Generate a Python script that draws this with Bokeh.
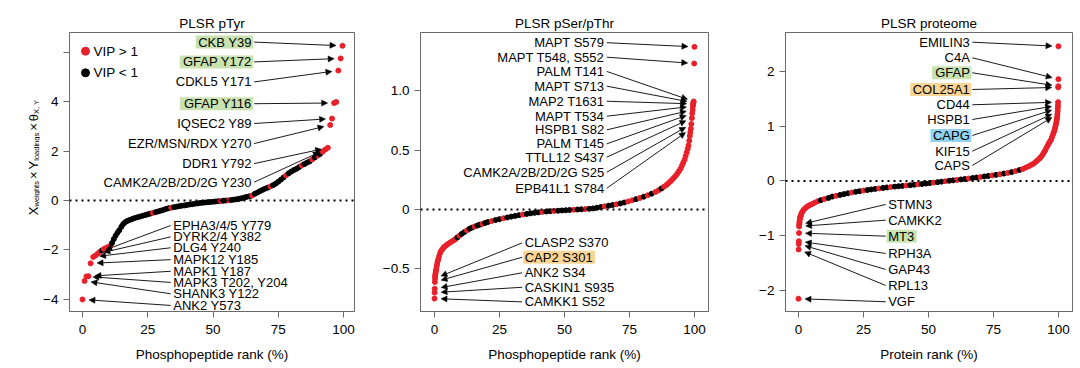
import math
from bokeh.plotting import figure
from bokeh.layouts import row
from bokeh.models import (Range1d, FixedTicker, Span, Arrow, NormalHead, ColumnDataSource,
                          LinearAxis)
from bokeh.embed import file_html
from bokeh.resources import INLINE
from bokeh.core.properties import value

FONT = "Liberation Sans"
RED = "#e8202a"
BLACK = "#000000"
AXC = "#6a6a6a"
GREEN = "#c9e3b0"
ORANGE = "#fbd595"
BLUE = "#92d3f2"

# ---------------- data: PLSR pTyr ----------------
ptyr_rank = [0.0, 0.8, 1.5, 2.3, 3.1, 4.1, 5.0, 5.8, 6.6, 7.4, 8.2, 9.0, 9.8, 10.6,
             11.3, 12.0, 12.7, 13.4, 14.1, 14.9, 15.6, 16.3, 17.1,
             18, 19, 20, 21, 22, 23, 24, 25, 26, 27,
             28, 29, 30, 31, 32, 33, 34, 35, 36, 37,
             38, 39, 40, 41, 42, 43, 44, 45, 46, 47,
             48, 49, 50, 51, 52, 53, 54, 55, 56, 57,
             58, 59, 60, 61, 62, 63, 64, 65, 66, 67,
             68, 69, 70, 71, 72, 73, 74, 75, 76, 77,
             78, 79, 80, 81, 82, 83, 84, 85, 86, 87,
             88, 89, 90, 91, 92, 93, 94,
             94.9, 95.6, 96.4, 97.2, 98.0, 98.9, 99.6]
ptyr_score = [-4.00, -3.25, -3.07, -3.06, -2.54, -2.28, -2.22, -2.15, -2.08, -2.02, -1.96, -1.92, -1.88, -1.84,
              -1.72, -1.56, -1.42, -1.30, -1.20, -1.06, -0.95, -0.88, -0.83,
              -0.79, -0.75, -0.71, -0.68, -0.65, -0.62, -0.59, -0.56, -0.53, -0.50,
              -0.47, -0.44, -0.41, -0.38, -0.34, -0.31, -0.29, -0.27, -0.25, -0.23,
              -0.21, -0.20, -0.18, -0.16, -0.15, -0.13, -0.12, -0.10, -0.09, -0.08,
              -0.07, -0.06, -0.05, -0.04, -0.03, -0.02, -0.01, 0.00, 0.01, 0.02,
              0.035, 0.05, 0.07, 0.09, 0.12, 0.15, 0.17, 0.20, 0.27, 0.32,
              0.38, 0.43, 0.48, 0.52, 0.57, 0.62, 0.68, 0.76, 0.84, 0.93,
              1.02, 1.10, 1.17, 1.23, 1.28, 1.35, 1.42, 1.47, 1.53, 1.58,
              1.66, 1.74, 1.81, 1.88, 1.97, 2.06, 2.13,
              3.05, 3.31, 3.94, 3.98, 5.25, 5.74, 6.25]
ptyr_vip = [1, 1, 1, 1, 1, 1, 1, 1, 1, 0, 1, 1, 1, 1,
            0, 0, 0, 0, 0, 0, 0, 0, 0,
            0, 0, 0, 0, 0, 0, 0, 0, 0, 1,
            0, 0, 0, 0, 0, 0, 1, 0, 0, 0,
            0, 0, 0, 0, 0, 0, 0, 0, 0, 0,
            0, 0, 0, 0, 0, 1, 0, 0, 1, 0,
            0, 0, 0, 0, 0, 0, 0, 1, 0, 0,
            0, 0, 0, 0, 1, 0, 0, 0, 0, 0,
            1, 0, 0, 0, 0, 0, 1, 0, 0, 0,
            1, 0, 1, 0, 1, 1, 1,
            1, 1, 1, 1, 1, 1, 1]

# ---------------- data: PLSR pSer/pThr ----------------
sst_rank = [0.0, 0.05, 0.1, 0.15, 0.2,
            0.25, 0.35, 0.45, 0.55, 0.7, 0.85, 1.0, 1.2, 1.45, 1.75,
            2.1, 2.5, 3.0, 3.5, 4.0, 4.6, 5.2, 5.9, 6.6, 7.3,
            8.0, 8.8, 9.6, 10.5, 11.5, 12.5, 13.5, 14.5, 15.5, 16.5,
            17.5, 18.5, 19.5, 20.5, 22.0, 23.5, 25.0, 26.5, 28.0, 29.5,
            31.0, 32.5, 34.0, 35.5, 37.0, 38.5, 40.0, 41.5, 43.0, 44.5,
            46.0, 47.5, 49.0, 50.5, 52.0, 53.5, 55.0, 56.5, 58.0, 59.5,
            61.0, 62.5, 64.0, 65.5, 67.0, 68.5, 70.0, 71.5, 73.0, 74.5,
            76.0, 77.5, 79.0, 80.5, 82.0, 83.5, 85.0, 86.2, 87.3, 88.3,
            89.2, 90.0, 90.8, 91.5, 92.2, 92.9, 93.5, 94.1, 94.7, 95.2,
            95.7, 96.2, 96.6, 97.0, 97.4, 97.7, 98.0, 98.2, 98.4, 98.6,
            98.8, 99.0, 99.15, 99.3, 99.4, 99.5, 99.6, 99.7, 99.9, 100.0]
sst_score = [-0.75, -0.70, -0.667, -0.61, -0.58,
             -0.56, -0.545, -0.53, -0.515, -0.50, -0.48, -0.46, -0.44, -0.42, -0.395,
             -0.37, -0.35, -0.335, -0.32, -0.31, -0.30, -0.29, -0.28, -0.27, -0.26,
             -0.25, -0.235, -0.22, -0.205, -0.19, -0.175, -0.162, -0.152, -0.143, -0.135,
             -0.127, -0.12, -0.113, -0.106, -0.097, -0.089, -0.081, -0.074, -0.067, -0.06,
             -0.054, -0.048, -0.042, -0.037, -0.032, -0.028, -0.024, -0.02, -0.017, -0.014,
             -0.012, -0.01, -0.008, -0.006, -0.004, -0.002, 0.0, 0.002, 0.004, 0.006,
             0.009, 0.015, 0.021, 0.027, 0.032, 0.038, 0.044, 0.051, 0.059, 0.068,
             0.077, 0.087, 0.097, 0.108, 0.12, 0.133, 0.148, 0.162, 0.177, 0.192,
             0.207, 0.222, 0.238, 0.254, 0.27, 0.288, 0.305, 0.325, 0.345, 0.37,
             0.395, 0.42, 0.45, 0.48, 0.51, 0.54, 0.58, 0.62, 0.65, 0.68,
             0.72, 0.77, 0.81, 0.84, 0.87, 0.89, 0.90, 0.91, 1.23, 1.37]
sst_vip = [1, 1, 1, 1, 1,
           1, 1, 1, 1, 1, 1, 1, 1, 1, 1,
           1, 1, 1, 1, 1, 1, 1, 1, 1, 1,
           1, 0, 1, 0, 0, 1, 0, 0, 1, 0,
           0, 1, 0, 0, 1, 0, 0, 1, 0, 0,
           0, 0, 1, 0, 0, 0, 0, 1, 0, 0,
           1, 0, 0, 0, 0, 1, 0, 0, 1, 0,
           0, 0, 0, 1, 0, 0, 1, 0, 0, 1,
           1, 0, 1, 0, 1, 0, 1, 1, 0, 1,
           1, 1, 1, 1, 1, 1, 1, 1, 1, 1,
           1, 1, 1, 1, 1, 1, 1, 1, 1, 1,
           1, 1, 1, 1, 1, 1, 1, 1, 1, 1]

# ---------------- data: PLSR proteome ----------------
prot_rank = [0.0, 0.05, 0.1, 0.15, 0.2, 0.25, 0.3, 0.35, 0.4,
             0.5, 0.6, 0.75, 0.9, 1.1, 1.4, 1.8, 2.3, 2.9, 3.6,
             4.4, 5.3, 6.3, 7.4, 8.6, 10.0, 11.5, 13.0, 14.5, 16.0,
             17.5, 19.0, 20.5, 22.0, 23.5, 25.0, 26.5, 28.0, 29.5, 31.0,
             32.5, 34.0, 35.5, 37.0, 38.5, 40.0, 41.5, 43.0, 44.5, 46.0,
             47.5, 49.0, 50.5, 52.0, 53.5, 55.0, 56.5, 58.0, 59.5, 61.0,
             62.5, 64.0, 65.5, 67.0, 68.5, 70.0, 71.5, 73.0, 74.5, 76.0,
             77.5, 79.0, 80.5, 82.0, 83.5, 85.0, 86.3, 87.5, 88.6, 89.6,
             90.5, 91.3, 92.0, 92.7, 93.3, 93.9, 94.4, 94.9, 95.4, 95.9,
             96.3, 96.7, 97.1, 97.5, 97.9, 98.2, 98.5, 98.7, 98.9, 99.1,
             99.25, 99.4, 99.5, 99.6, 99.7, 99.75, 99.8, 99.85, 99.9, 99.95,
             99.98, 100.0]
prot_score = [-2.15, -1.25, -1.15, -1.10, -0.95, -0.83, -0.80, -0.77, -0.74,
              -0.70, -0.67, -0.65, -0.63, -0.60, -0.57, -0.54, -0.51, -0.485, -0.46,
              -0.44, -0.42, -0.395, -0.37, -0.35, -0.33, -0.31, -0.285, -0.27, -0.255,
              -0.24, -0.225, -0.21, -0.198, -0.186, -0.175, -0.165, -0.155, -0.145, -0.136,
              -0.127, -0.118, -0.11, -0.103, -0.096, -0.09, -0.083, -0.076, -0.069, -0.062,
              -0.055, -0.047, -0.039, -0.03, -0.021, -0.012, -0.004, 0.004, 0.012, 0.02,
              0.028, 0.036, 0.045, 0.054, 0.063, 0.072, 0.082, 0.092, 0.102, 0.112,
              0.123, 0.135, 0.148, 0.162, 0.18, 0.20, 0.22, 0.245, 0.27, 0.295,
              0.32, 0.35, 0.38, 0.41, 0.44, 0.48, 0.52, 0.56, 0.61, 0.65,
              0.69, 0.72, 0.75, 0.80, 0.85, 0.89, 0.93, 0.97, 1.01, 1.05,
              1.09, 1.13, 1.17, 1.22, 1.27, 1.33, 1.38, 1.44, 1.71, 1.73,
              1.86, 2.46]
prot_vip = [1, 1, 1, 1, 1, 1, 1, 1, 1,
            1, 1, 1, 1, 1, 1, 1, 1, 1, 1,
            1, 1, 1, 1,
            0, 1, 0, 0, 1, 0, 0, 0, 1, 0,
            0, 1, 0, 0, 0, 1, 0, 0, 1, 0,
            0, 0, 1, 0, 0, 1, 0, 0, 0, 1,
            0, 0, 1, 0, 0, 1, 0, 0, 1, 0,
            0, 1, 0, 0, 1, 0, 1, 0, 1, 0,
            1, 0, 1, 1,
            1, 1, 1, 1, 1, 1, 1, 1, 1, 1,
            1, 1, 1, 1, 1, 1, 1, 1, 1, 1,
            1, 1, 1, 1, 1, 1, 1, 1, 1, 1,
            1, 1, 1, 1]

# ---------------- annotation labels ----------------
ptyr_up_names = ["CKB Y39", "GFAP Y172", "CDKL5 Y171", "GFAP Y116", "IQSEC2 Y89",
                 "EZR/MSN/RDX Y270", "DDR1 Y792", "CAMK2A/2B/2D/2G Y230"]
ptyr_up_y = [6.40, 5.60, 4.79, 3.91, 3.11, 2.30, 1.49, 0.74]
ptyr_up_target = [99.6, 98.9, 98.0, 96.4, 95.6, 94.9, 94, 93]
ptyr_dn_names = ["EPHA3/4/5 Y779", "DYRK2/4 Y382", "DLG4 Y240", "MAPK12 Y185",
                 "MAPK1 Y187", "MAPK3 T202, Y204", "SHANK3 Y122", "ANK2 Y573"]
ptyr_dn_y = [-1.01, -1.47, -1.91, -2.39, -2.86, -3.31, -3.77, -4.24]
ptyr_dn_target = [6.6, 5.8, 4.1, 3.1, 2.3, 1.5, 0.8, 0.0]

sst_up_names = ["MAPT S579", "MAPT T548, S552", "PALM T141", "MAPT S713", "MAP2 T1631",
                "MAPT T534", "HSPB1 S82", "PALM T145", "TTLL12 S437",
                "CAMK2A/2B/2D/2G S25", "EPB41L1 S784"]
sst_up_y = [1.405, 1.283, 1.163, 1.039, 0.912, 0.786, 0.671, 0.553, 0.441, 0.314, 0.179]
sst_up_target = [100.0, 99.9, 99.7, 99.6, 99.5, 99.4, 99.3, 99.15, 99.0, 98.8, 98.6]
sst_dn_names = ["CLASP2 S370", "CAP2 S301", "ANK2 S34", "CASKIN1 S935", "CAMKK1 S52"]
sst_dn_y = [-0.281, -0.402, -0.533, -0.655, -0.778]
sst_dn_target = [0.2, 0.15, 0.1, 0.05, 0.0]

prot_up_names = ["EMILIN3", "C4A", "GFAP", "COL25A1", "CD44", "HSPB1", "CAPG", "KIF15", "CAPS"]
prot_up_y = [2.535, 2.25, 1.976, 1.671, 1.392, 1.123, 0.831, 0.544, 0.283]
prot_up_target = [100.0, 99.98, 99.95, 99.9, 99.85, 99.8, 99.75, 99.7, 99.6]
prot_dn_names = ["STMN3", "CAMKK2", "MT3", "RPH3A", "GAP43", "RPL13", "VGF"]
prot_dn_y = [-0.429, -0.716, -1.008, -1.324, -1.616, -1.909, -2.206]
prot_dn_target = [0.3, 0.25, 0.2, 0.15, 0.1, 0.05, 0.0]

highlight = {"CKB Y39": GREEN, "GFAP Y172": GREEN, "GFAP Y116": GREEN, "CAP2 S301": ORANGE,
             "GFAP": GREEN, "COL25A1": ORANGE, "CAPG": BLUE, "MT3": GREEN}

for a, b, c in [(ptyr_rank, ptyr_score, ptyr_vip), (sst_rank, sst_score, sst_vip),
                (prot_rank, prot_score, prot_vip)]:
    assert len(a) == len(b) == len(c), (len(a), len(b), len(c))

# Arial / Liberation Sans advance widths (em)
CW = {" ": .278, ",": .278, "/": .278, "×": .584, "θ": .556,
      "A": .667, "B": .667, "C": .722, "D": .722, "E": .667, "F": .611, "G": .778, "H": .722,
      "I": .278, "J": .5, "K": .667, "L": .556, "M": .833, "N": .722, "O": .778, "P": .667,
      "Q": .778, "R": .722, "S": .667, "T": .611, "U": .722, "V": .667, "W": .944, "X": .667,
      "Y": .667, "Z": .611, "w": .722, "e": .556, "i": .222, "g": .556, "h": .556, "t": .278,
      "s": .5, "l": .222, "o": .556, "a": .556, "d": .556, "n": .556}


def tw(s, size):
    return sum(CW.get(ch, .556) for ch in s) * size


FH = 279
TOP = 32
BOT = 57
ANN_FS = 13


def style_common(p):
    p.grid.visible = False
    p.background_fill_color = "white"
    p.border_fill_color = "white"


def make_panel(title, xlabel, ranks, scores, vips, xr, yr, fw, bl, br, yticks, yover,
               up, dn, up_x, dn_x):
    p = figure(title=None, frame_width=fw, frame_height=FH, x_range=Range1d(*xr),
               y_range=Range1d(*yr), output_backend="svg", toolbar_location=None,
               min_border_left=bl, min_border_right=br, min_border_top=TOP, min_border_bottom=BOT)
    style_common(p)
    p.outline_line_color = AXC
    p.outline_line_width = 1

    xax = p.below[0]
    yax = p.left[0]

    # panel title drawn as the label of a tick-less axis above the frame
    tax = LinearAxis(ticker=FixedTicker(ticks=[]), axis_label=title, axis_line_color=None,
                     major_tick_line_color=None, minor_tick_line_color=None, major_tick_out=0,
                     major_tick_in=0, major_label_standoff=0,
                     axis_label_standoff=2, axis_label_text_font=FONT,
                     axis_label_text_font_size="13.5px", axis_label_text_font_style="normal",
                     axis_label_text_color="black")
    p.add_layout(tax, "above")

    xax.ticker = FixedTicker(ticks=[0, 25, 50, 75, 100])
    yax.ticker = FixedTicker(ticks=yticks)
    yax.major_label_overrides = yover
    xax.axis_label = xlabel
    for ax in (xax, yax):
        ax.axis_line_color = AXC
        ax.major_tick_line_color = AXC
        ax.minor_tick_line_color = None
        ax.major_tick_in = 0
        ax.major_tick_out = 6
        ax.major_label_text_font = FONT
        ax.major_label_text_font_size = "13.5px"
        ax.major_label_text_color = "black"
        ax.axis_label_text_font = FONT
        ax.axis_label_text_font_size = "13.5px"
        ax.axis_label_text_font_style = "normal"
        ax.axis_label_text_color = "black"
        ax.axis_label_standoff = 10
    xax.major_label_standoff = 7
    yax.major_label_standoff = 5

    p.add_layout(Span(location=0, dimension="width", line_color="black", line_width=2,
                      line_dash="2 4"))

    src = ColumnDataSource(dict(x=ranks, y=scores, c=[RED if v else BLACK for v in vips]))
    p.scatter(x="x", y="y", size=5, fill_color="c", line_color="c", source=src)

    sxp = fw / (xr[1] - xr[0])
    syp = FH / (yr[1] - yr[0])

    for (names, ys, targets), tx0, align in [(up, up_x, "right"), (dn, dn_x, "left")]:
        sgn = 1 if align == "right" else -1
        bx, by, bw, bc = [], [], [], []
        for name, ly, tr in zip(names, ys, targets):
            i = ranks.index(tr)
            tx, ty = ranks[i], scores[i]
            sx0 = tx0 + sgn * 2.5 / sxp
            dxp = (tx - sx0) * sxp
            dyp = (ty - ly) * syp
            d = math.hypot(dxp, dyp)
            gap = 6.5
            ex = tx - dxp / d * gap / sxp
            ey = ty - dyp / d * gap / syp
            p.add_layout(Arrow(end=NormalHead(size=6, fill_color="black", line_color="black",
                                              line_width=0.5),
                               x_start=sx0, y_start=ly, x_end=ex, y_end=ey,
                               line_color="black", line_width=0.9))
            if name in highlight:
                w = tw(name, ANN_FS) + 4
                if align == "right":
                    cx = tx0 + 1.5 / sxp - w / 2 / sxp
                else:
                    cx = tx0 - 1.5 / sxp + w / 2 / sxp
                bx.append(cx)
                by.append(ly)
                bw.append(w)
                bc.append(highlight[name])
        if bx:
            p.rect(x=bx, y=by, width=bw, height=13, width_units="screen", height_units="screen",
                   fill_color=bc, line_color=None)
        p.text(x=[tx0] * len(names), y=ys, text=names, text_align=align, text_baseline="middle",
               text_font=value(FONT), text_font_size=f"{ANN_FS}px", text_color="black")
    return p, sxp, syp


XR1 = (-4.98, 104.2)
YR1 = (-4.485, 6.788)
XR2 = (-5.38, 105.4)
YR2 = (-0.859, 1.491)
XR3 = (-5.0, 105.4)
YR3 = (-2.384, 2.712)

LBW = 40  # width of the y-label strip left of panel 1

p1, sx1, sy1 = make_panel("PLSR pTyr", "Phosphopeptide rank (%)", ptyr_rank, ptyr_score, ptyr_vip,
                          XR1, YR1, 285, 68 - LBW, 6, [-4, -2, 0, 2, 4, 6],
                          {-4: "−4", -2: "−2", 0: "0", 2: "2", 4: "4", 6: ""},
                          (ptyr_up_names, ptyr_up_y, ptyr_up_target),
                          (ptyr_dn_names, ptyr_dn_y, ptyr_dn_target), 64.8, 34.75)
p2, _, _ = make_panel("PLSR pSer/pThr", "Phosphopeptide rank (%)", sst_rank, sst_score, sst_vip,
                      XR2, YR2, 288, 60, 6, [-0.5, 0, 0.5, 1.0],
                      {-0.5: "−0.5", 0: "0", 0.5: "0.5", 1: "1.0"},
                      (sst_up_names, sst_up_y, sst_up_target),
                      (sst_dn_names, sst_dn_y, sst_dn_target), 65.3, 34.7)
p3, _, _ = make_panel("PLSR proteome", "Protein rank (%)", prot_rank, prot_score, prot_vip,
                      XR3, YR3, 287, 71, 1, [-2, -1, 0, 1, 2],
                      {-2: "−2", -1: "−1", 0: "0", 1: "1", 2: "2"},
                      (prot_up_names, prot_up_y, prot_up_target),
                      (prot_dn_names, prot_dn_y, prot_dn_target), 65.9, 34.5)

# legend (panel 1)
lg_x = XR1[0] + 16 / sx1
lg_tx = XR1[0] + 24 / sx1
lg_y = [YR1[1] - 18.7 / sy1, YR1[1] - 40.3 / sy1]
p1.scatter(x=[lg_x, lg_x], y=lg_y, size=8, fill_color=[RED, BLACK], line_color=[RED, BLACK])
p1.text(x=[lg_tx, lg_tx], y=lg_y, text=["VIP > 1", "VIP < 1"], text_align="left",
        text_baseline="middle", text_font=value(FONT), text_font_size="13.5px")

# y-axis label strip, sharing panel 1's vertical geometry and y range
lab = figure(title=None, frame_width=LBW, frame_height=FH, x_range=Range1d(0, LBW),
             y_range=p1.y_range, output_backend="svg", toolbar_location=None,
             x_axis_type=None, y_axis_type=None, min_border_left=0, min_border_right=0,
             min_border_top=TOP, min_border_bottom=BOT, outline_line_color=None)
style_common(lab)
MAIN, SUB, GAP = 13, 7.5, 2.0
pieces = [("X", MAIN, 0, 0), ("weights", SUB, 1, GAP), ("×", MAIN, 0, GAP), ("Y", MAIN, 0, 0),
          ("loadings", SUB, 1, GAP), ("×", MAIN, 0, GAP), ("θ", MAIN, 0, 0), ("X, Y", SUB, 1, 0)]
total = sum(tw(t, s) + g for t, s, _, g in pieces)
center_px = 157 - TOP          # label centre, pixels below the frame top
pos = center_px + total / 2    # pixels below frame top where the label starts
px_, py_, pt_, ps_ = [], [], [], []
for t, s, sub, g in pieces:
    px_.append(36.0 if sub else 33.0)
    py_.append(YR1[1] - pos / sy1)
    pt_.append(t)
    ps_.append(f"{s}px")
    pos -= tw(t, s) + g
lab.text(x=px_, y=py_, text=pt_, text_font_size=ps_, angle=math.pi / 2, text_align="left",
         text_baseline="alphabetic", text_font=value(FONT), text_color="black")

layout = row(lab, p1, p2, p3)
open("out.html", "w").write(file_html(layout, INLINE))
